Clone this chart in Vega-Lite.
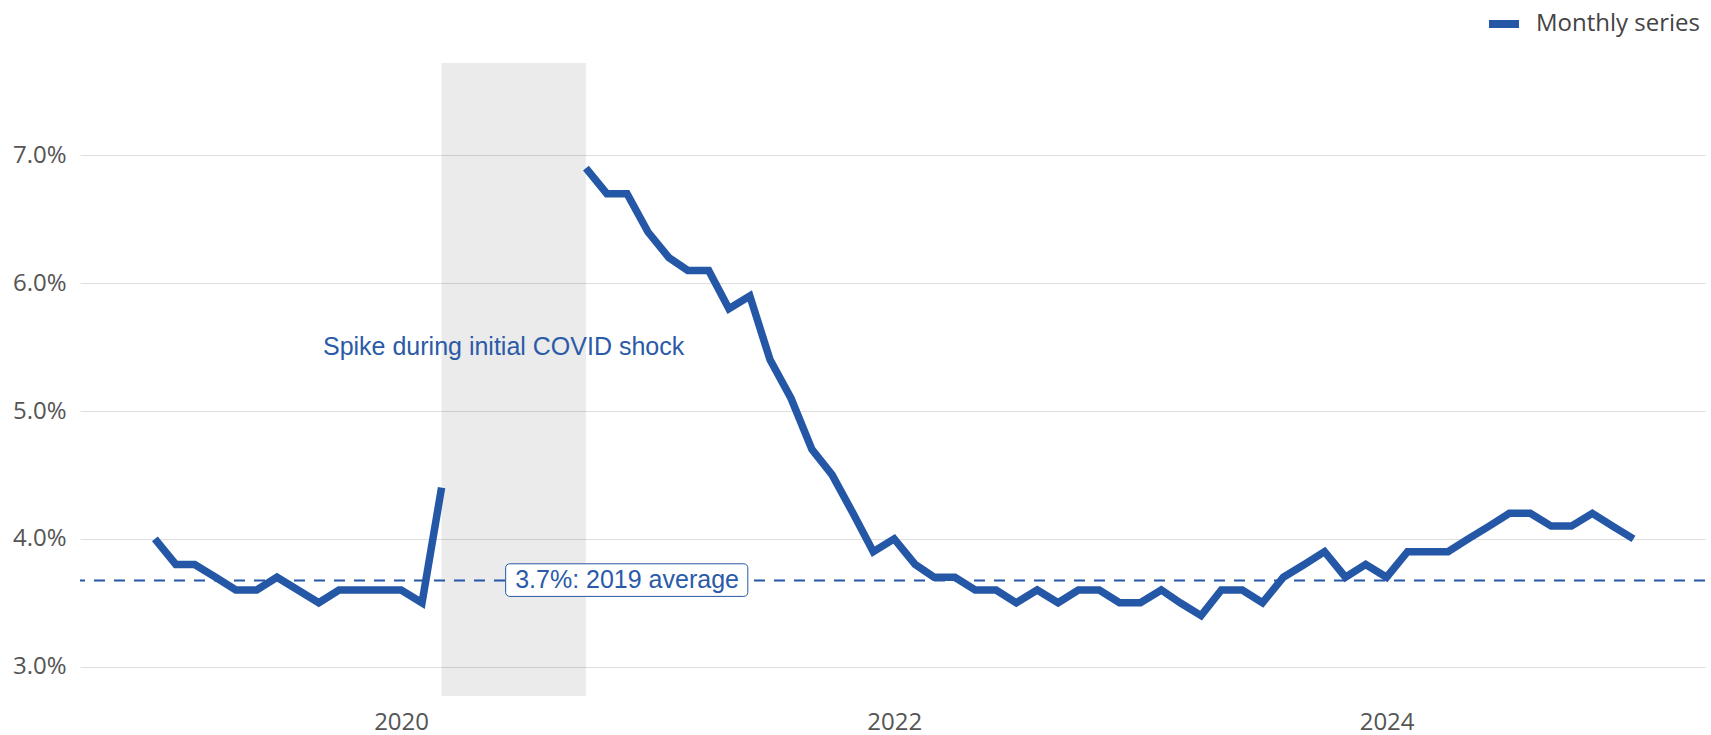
{
  "$schema": "https://vega.github.io/schema/vega-lite/v6.json",
  "autosize": {"type": "none"},
  "width": 1625,
  "height": 633,
  "padding": {"left": 80, "top": 63, "right": 6, "bottom": 39},
  "background": "white",
  "config": {
    "view": {"stroke": null},
    "axis": {"domain": false, "ticks": false, "tickSize": 0, "labelFont": "Open Sans", "labelFontSize": 24, "labelColor": "#555555", "gridColor": "#dedede", "gridWidth": 1}
  },
  "layer": [
    {
      "data": {"values": [{"label": "Initial COVID shock"}]},
      "mark": {"type": "rect", "fill": "#000000", "fillOpacity": 0.08},
      "encoding": {
        "x": {"datum": {"year": 2020, "month": 3, "date": 1, "utc": true}, "type": "temporal"},
        "x2": {"datum": {"year": 2020, "month": 10, "date": 1, "utc": true}}
      }
    },
    {
      "data": {"values": [{"label": "2019 average", "avg": 3.675}]},
      "mark": {"type": "rule", "stroke": "#2557a7", "strokeWidth": 2, "strokeDash": [11, 9]},
      "encoding": {"y": {"field": "avg", "type": "quantitative"}}
    },
    {
      "data": {"values": [
        {"date": "2019-01-01", "value": 4.0, "period": "pre"},
        {"date": "2019-02-01", "value": 3.8, "period": "pre"},
        {"date": "2019-03-01", "value": 3.8, "period": "pre"},
        {"date": "2019-04-01", "value": 3.7, "period": "pre"},
        {"date": "2019-05-01", "value": 3.6, "period": "pre"},
        {"date": "2019-06-01", "value": 3.6, "period": "pre"},
        {"date": "2019-07-01", "value": 3.7, "period": "pre"},
        {"date": "2019-08-01", "value": 3.6, "period": "pre"},
        {"date": "2019-09-01", "value": 3.5, "period": "pre"},
        {"date": "2019-10-01", "value": 3.6, "period": "pre"},
        {"date": "2019-11-01", "value": 3.6, "period": "pre"},
        {"date": "2019-12-01", "value": 3.6, "period": "pre"},
        {"date": "2020-01-01", "value": 3.6, "period": "pre"},
        {"date": "2020-02-01", "value": 3.5, "period": "pre"},
        {"date": "2020-03-01", "value": 4.4, "period": "pre"},
        {"date": "2020-10-01", "value": 6.9, "period": "post"},
        {"date": "2020-11-01", "value": 6.7, "period": "post"},
        {"date": "2020-12-01", "value": 6.7, "period": "post"},
        {"date": "2021-01-01", "value": 6.4, "period": "post"},
        {"date": "2021-02-01", "value": 6.2, "period": "post"},
        {"date": "2021-03-01", "value": 6.1, "period": "post"},
        {"date": "2021-04-01", "value": 6.1, "period": "post"},
        {"date": "2021-05-01", "value": 5.8, "period": "post"},
        {"date": "2021-06-01", "value": 5.9, "period": "post"},
        {"date": "2021-07-01", "value": 5.4, "period": "post"},
        {"date": "2021-08-01", "value": 5.1, "period": "post"},
        {"date": "2021-09-01", "value": 4.7, "period": "post"},
        {"date": "2021-10-01", "value": 4.5, "period": "post"},
        {"date": "2021-11-01", "value": 4.2, "period": "post"},
        {"date": "2021-12-01", "value": 3.9, "period": "post"},
        {"date": "2022-01-01", "value": 4.0, "period": "post"},
        {"date": "2022-02-01", "value": 3.8, "period": "post"},
        {"date": "2022-03-01", "value": 3.7, "period": "post"},
        {"date": "2022-04-01", "value": 3.7, "period": "post"},
        {"date": "2022-05-01", "value": 3.6, "period": "post"},
        {"date": "2022-06-01", "value": 3.6, "period": "post"},
        {"date": "2022-07-01", "value": 3.5, "period": "post"},
        {"date": "2022-08-01", "value": 3.6, "period": "post"},
        {"date": "2022-09-01", "value": 3.5, "period": "post"},
        {"date": "2022-10-01", "value": 3.6, "period": "post"},
        {"date": "2022-11-01", "value": 3.6, "period": "post"},
        {"date": "2022-12-01", "value": 3.5, "period": "post"},
        {"date": "2023-01-01", "value": 3.5, "period": "post"},
        {"date": "2023-02-01", "value": 3.6, "period": "post"},
        {"date": "2023-03-01", "value": 3.5, "period": "post"},
        {"date": "2023-04-01", "value": 3.4, "period": "post"},
        {"date": "2023-05-01", "value": 3.6, "period": "post"},
        {"date": "2023-06-01", "value": 3.6, "period": "post"},
        {"date": "2023-07-01", "value": 3.5, "period": "post"},
        {"date": "2023-08-01", "value": 3.7, "period": "post"},
        {"date": "2023-09-01", "value": 3.8, "period": "post"},
        {"date": "2023-10-01", "value": 3.9, "period": "post"},
        {"date": "2023-11-01", "value": 3.7, "period": "post"},
        {"date": "2023-12-01", "value": 3.8, "period": "post"},
        {"date": "2024-01-01", "value": 3.7, "period": "post"},
        {"date": "2024-02-01", "value": 3.9, "period": "post"},
        {"date": "2024-03-01", "value": 3.9, "period": "post"},
        {"date": "2024-04-01", "value": 3.9, "period": "post"},
        {"date": "2024-05-01", "value": 4.0, "period": "post"},
        {"date": "2024-06-01", "value": 4.1, "period": "post"},
        {"date": "2024-07-01", "value": 4.2, "period": "post"},
        {"date": "2024-08-01", "value": 4.2, "period": "post"},
        {"date": "2024-09-01", "value": 4.1, "period": "post"},
        {"date": "2024-10-01", "value": 4.1, "period": "post"},
        {"date": "2024-11-01", "value": 4.2, "period": "post"},
        {"date": "2024-12-01", "value": 4.1, "period": "post"},
        {"date": "2025-01-01", "value": 4.0, "period": "post"}
      ]},
      "mark": {"type": "line", "strokeWidth": 7.5, "strokeJoin": "miter"},
      "encoding": {
        "x": {
          "field": "date", "type": "temporal", "title": null,
          "scale": {"type": "utc", "domain": [{"year": 2018, "month": 9, "date": 12, "utc": true}, {"year": 2025, "month": 4, "date": 17, "utc": true}]},
          "axis": {"grid": false, "format": "%Y", "formatType": "utc", "labelPadding": 33, "labelBaseline": "alphabetic", "labelAngle": 0,
            "values": [{"year": 2020, "month": 1, "date": 1, "utc": true}, {"year": 2022, "month": 1, "date": 1, "utc": true}, {"year": 2024, "month": 1, "date": 1, "utc": true}]}
        },
        "y": {
          "field": "value", "type": "quantitative", "title": null,
          "scale": {"domain": [2.771, 7.722], "nice": false, "zero": false},
          "axis": {"values": [3, 4, 5, 6, 7], "labelExpr": "format(datum.value, '.1f') + '%'", "labelPadding": 14, "grid": true}
        },
        "detail": {"field": "period", "type": "nominal"},
        "color": {"datum": "Monthly series", "type": "nominal",
          "scale": {"range": ["#2557a7"]},
          "legend": {"orient": "none", "legendX": 1405, "legendY": -58, "title": null, "symbolType": "stroke", "symbolSize": 900, "symbolStrokeWidth": 8, "labelFont": "Open Sans", "labelFontSize": 24, "labelColor": "#444444", "labelOffset": 13, "labelLimit": 400, "padding": 0}}
      }
    },
    {
      "data": {"values": [{"label": "3.7%: 2019 average", "avg": 3.675}]},
      "mark": {"type": "rect", "fill": "white", "stroke": "#2557a7", "strokeWidth": 1, "cornerRadius": 4},
      "encoding": {
        "x": {"datum": {"year": 2020, "month": 6, "date": 4, "utc": true}, "type": "temporal"},
        "x2": {"datum": {"year": 2021, "month": 5, "date": 29, "utc": true}},
        "y": {"datum": 3.805, "type": "quantitative"},
        "y2": {"datum": 3.55}
      }
    },
    {
      "data": {"values": [{"label": "3.7%: 2019 average", "avg": 3.675}]},
      "mark": {"type": "text", "font": "Liberation Sans", "fontSize": 25, "fill": "#2a5aa8", "align": "center", "baseline": "middle"},
      "encoding": {
        "text": {"field": "label"},
        "x": {"datum": {"year": 2020, "month": 12, "date": 1, "utc": true}, "type": "temporal"},
        "y": {"field": "avg", "type": "quantitative"}
      }
    },
    {
      "data": {"values": [{"label": "Spike during initial COVID shock", "level": 5.5}]},
      "mark": {"type": "text", "font": "Liberation Sans", "fontSize": 25, "fill": "#2a5aa8", "align": "center", "baseline": "middle"},
      "encoding": {
        "text": {"field": "label"},
        "x": {"datum": {"year": 2020, "month": 6, "date": 1, "utc": true}, "type": "temporal"},
        "y": {"field": "level", "type": "quantitative"}
      }
    }
  ]
}
